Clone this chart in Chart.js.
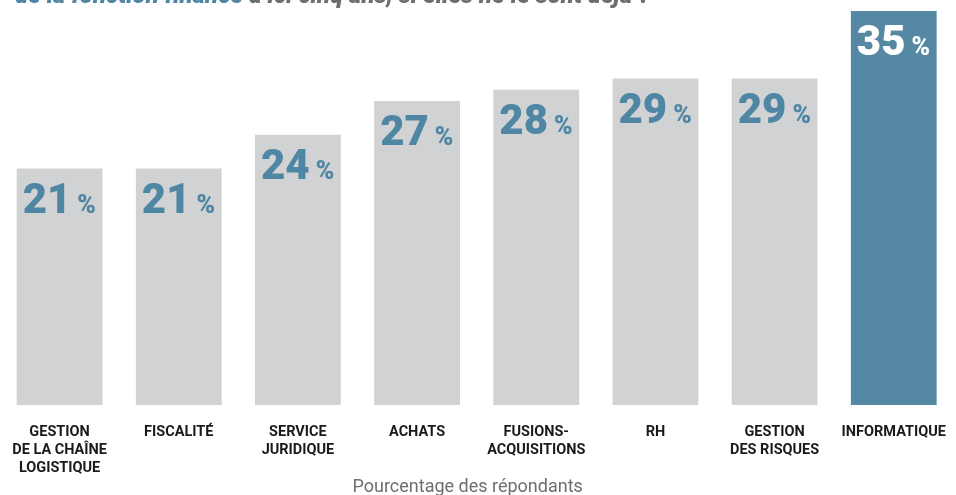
<!DOCTYPE html>
<html>
<head>
<meta charset="utf-8">
<script src="https://cdn.jsdelivr.net/npm/chart.js@4"></script>
<style>
  html, body { margin: 0; padding: 0; background: #fff; }
  #wrap { width: 956px; height: 495px; position: relative; }
</style>
</head>
<body>
<div id="wrap"><canvas id="myChart"></canvas></div>
<script>
const categories = [
    ["GESTION", "DE LA CHAÎNE", "LOGISTIQUE"],
    "FISCALITÉ",
    ["SERVICE", "JURIDIQUE"],
    "ACHATS",
    ["FUSIONS-", "ACQUISITIONS"],
    "RH",
    ["GESTION", "DES RISQUES"],
    "INFORMATIQUE"
];
const percents = [21, 21, 24, 27, 28, 29, 29, 35];
const highlight = [false, false, false, false, false, false, false, true];

const grey = '#d1d2d4';
const blue = '#5488a3';

// partial title at the top + axis caption + value labels
const decorations = {
    id: 'decorations',
    afterDatasetsDraw(chart) {
        const ctx = chart.ctx;
        ctx.save();
        // title cut off by the top edge
        ctx.textBaseline = 'alphabetic';
        ctx.textAlign = 'left';
        ctx.font = 'italic 900 24px Roboto';
        const part1 = 'de la fonction finance';
        ctx.fillStyle = '#4f86a3';
        ctx.fillText(part1, 15, 3);
        const w = ctx.measureText(part1 + ' ').width;
        ctx.fillStyle = '#6d6e71';
        ctx.fillText('d\u2019ici cinq ans, si elles ne le sont déjà ?', 15 + w, 3);

        // values inside bars
        const meta = chart.getDatasetMeta(0);
        meta.data.forEach((bar, i) => {
            const left = bar.x - bar.width / 2;
            ctx.fillStyle = highlight[i] ? '#ffffff' : '#4f86a3';
            ctx.font = '900 42px Roboto';
            const num = String(percents[i]);
            ctx.fillText(num, left + 6, bar.y + 44);
            const nw = ctx.measureText(num).width;
            ctx.font = '900 25px Roboto';
            ctx.fillText('%', left + 6 + nw + 6, bar.y + 44);
        });

        // axis caption
        ctx.font = '18px Roboto';
        ctx.fillStyle = '#6d6e71';
        ctx.textAlign = 'center';
        ctx.textBaseline = 'middle';
        const ca = chart.chartArea;
        ctx.fillText('Pourcentage des répondants', (ca.left + ca.right) / 2 - 9, 487);
        ctx.restore();
    }
};

const getChart = document.getElementById('myChart').getContext('2d');
const mychart = new Chart(getChart, {
    type: 'bar',
    data: {
        labels: categories,
        datasets: [{
            label: 'Pourcentage des répondants',
            data: percents,
            backgroundColor: highlight.map(h => h ? blue : grey),
            borderWidth: 0,
            barPercentage: 0.72,
            categoryPercentage: 1.0
        }]
    },
    options: {
        responsive: true,
        maintainAspectRatio: false,
        animation: false,
        layout: {
            padding: { top: 11, left: 0, right: 1, bottom: 0 }
        },
        scales: {
            y: {
                display: false,
                min: 0,
                max: 35
            },
            x: {
                grid: { display: false },
                border: { display: false },
                ticks: {
                    color: '#1a1a1a',
                    padding: 10,
                    maxRotation: 0,
                    autoSkip: false,
                    font: { family: 'Roboto', weight: 'bold', size: 14.5, lineHeight: 1.25 }
                },
                afterFit(scale) {
                    scale.height = 90;
                }
            }
        },
        plugins: {
            legend: { display: false },
            tooltip: { enabled: false },
            title: { display: false }
        }
    },
    plugins: [decorations]
});
</script>
</body>
</html>
